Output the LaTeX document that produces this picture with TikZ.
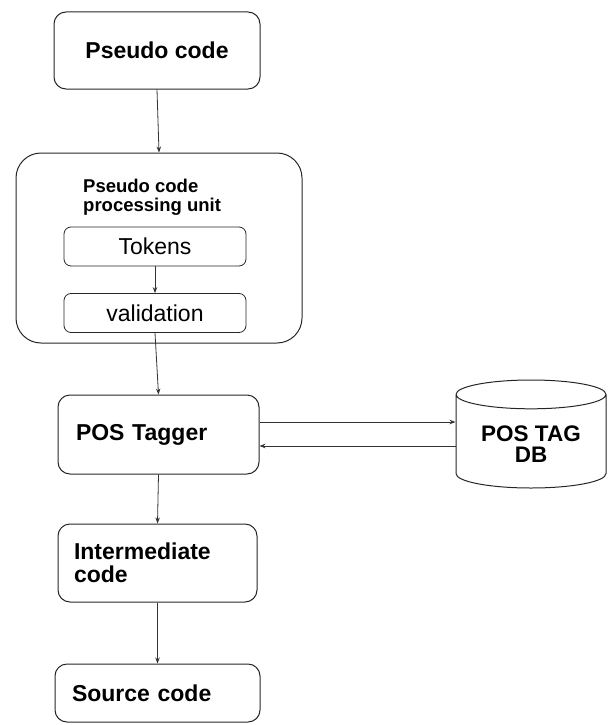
\documentclass[tikz,border=0pt]{standalone}
\usepackage{fontspec}
\setmainfont{Liberation Sans}
\usetikzlibrary{shapes.geometric,arrows.meta}

\tikzset{
  blk/.style={draw=black!85, line width=1pt, rounded corners=12pt,
    font=\bfseries\fontsize{23}{23}\selectfont},
  sub/.style={draw=black!85, line width=0.8pt, rounded corners=7pt,
    minimum width=182pt, minimum height=39pt, font=\fontsize{23}{25}\selectfont},
  flow/.style={draw=black!80, line width=0.8pt, -{Stealth[length=6pt,width=4.5pt]}},
}

\begin{document}
\begin{tikzpicture}[x=1pt, y=-1pt]
  \useasboundingbox (0,0) rectangle (608,725);

  % === 顶部输入框 ===
  \node[blk, minimum width=206pt, minimum height=77pt] (pseudo) at (157,50.5) {Pseudo code};

  % === 处理单元（外框 + 标题 + 两个子框）===
  \node[draw=black!85, line width=1pt, rounded corners=25pt,
    minimum width=286pt, minimum height=190pt] (unit) at (159,248) {};
  \node[anchor=west, align=left, inner sep=0pt,
    font=\bfseries\fontsize{18.5}{19.5}\selectfont] (unittitle)
    at (83,197.5) {Pseudo code\\processing unit};
  \node[sub] (tokens) at (155,246.5) {Tokens};
  \node[sub] (valid) at (155,313) {validation};

  % === 标注器与数据库 ===
  \node[blk, minimum width=201pt, minimum height=79pt, inner xsep=18pt,
    text width=165pt, align=left] (tagger) at (158.5,434.5) {POS Tagger};
  % 柱体（空内容，text width 控制椭圆）+ 单独的文字
  \node[cylinder, shape border rotate=90, aspect=0.27, draw=black!85, line width=1pt,
    minimum width=150pt, minimum height=108pt, text width=100pt,
    anchor=shape center] (db) at (531,434) {};
  \node[align=center, font=\bfseries\fontsize{22.5}{20.5}\selectfont] (dblabel)
    at (531,444) {POS TAG\\DB};

  % === 输出框 ===
  \node[blk, minimum width=199pt, minimum height=78pt, inner xsep=16pt,
    text width=167pt, align=left] (inter) at (157.5,563) {Intermediate\\code};
  \node[blk, minimum width=205pt, minimum height=58pt, inner xsep=17pt,
    text width=171pt, align=left] (source) at (157.5,693) {Source code};

  % === 连线 ===
  \draw[flow] (pseudo.south) -- (unit.north);
  \draw[flow] (tokens.south) -- (valid.north);
  \draw[flow] (valid.south) -- (tagger.north);
  \draw[flow] ([yshift=12.5pt]tagger.east) -- ([yshift=12.5pt]tagger.east -| db.west);
  \draw[flow] ([yshift=-11.5pt]tagger.east -| db.west) -- ([yshift=-11.5pt]tagger.east);
  \draw[flow] (tagger.south) -- (inter.north);
  \draw[flow] (inter.south) -- (source.north);
\end{tikzpicture}
\end{document}
